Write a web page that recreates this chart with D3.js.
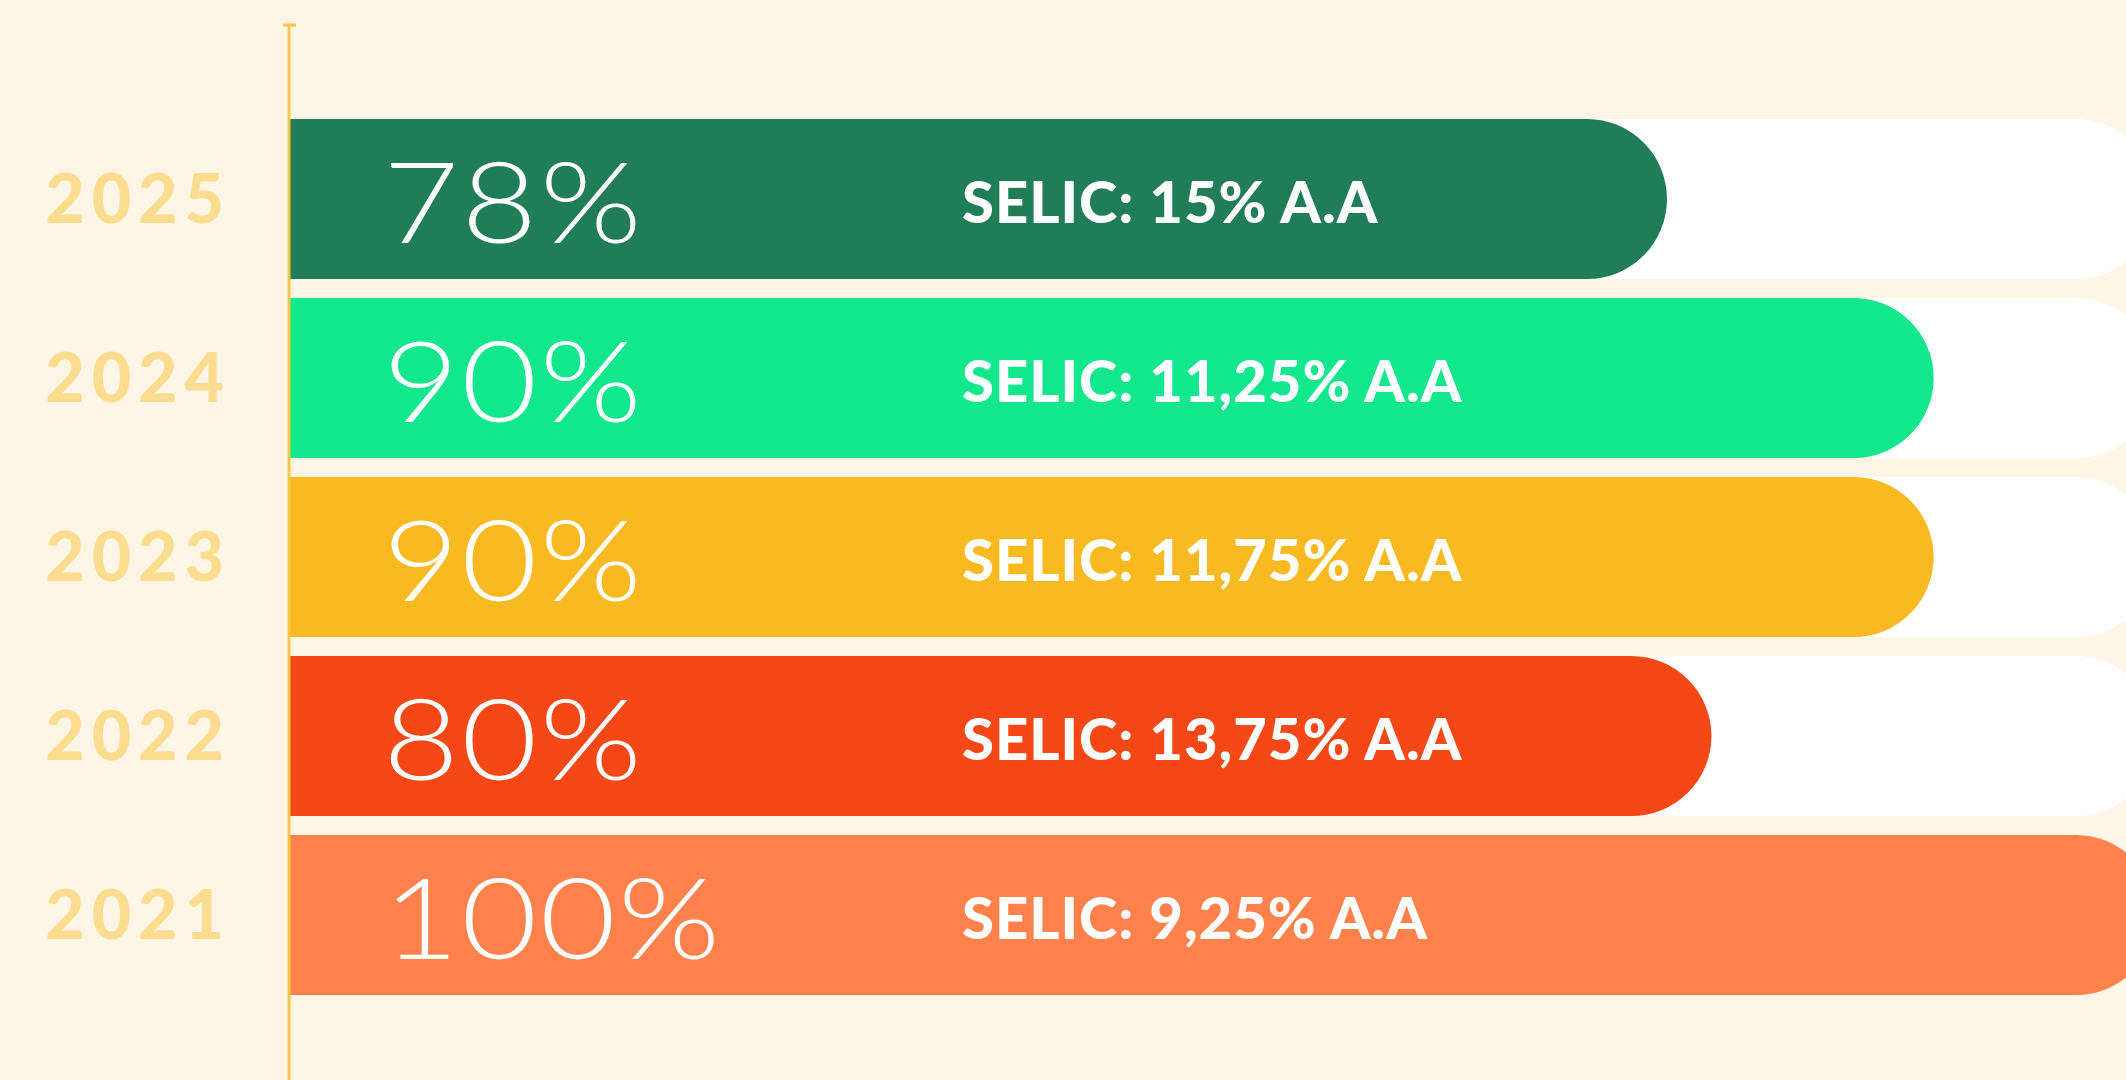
<!DOCTYPE html>
<html>
<head>
<meta charset="utf-8">
<script src="https://cdn.jsdelivr.net/npm/d3@7"></script>
<style>
  html, body { margin: 0; padding: 0; background: #FDF6E7; overflow: hidden; }
  svg { display: block; }
</style>
</head>
<body>
<div id="chart"></div>
<script>
const years = ["2025", "2024", "2023", "2022", "2021"];
const shares = [78, 90, 90, 80, 100];
const shareLabels = ["78%", "90%", "90%", "80%", "100%"];
const selicLabels = [
    "SELIC: 15% A.A",
    "SELIC: 11,25% A.A",
    "SELIC: 11,75% A.A",
    "SELIC: 13,75% A.A",
    "SELIC: 9,25% A.A"
];
const trackValue = 100;

const barColors = ["#207D57", "#12E78D", "#F9BA21", "#F64816", "#FF814B"];

const width = 2126;
const height = 1080;
const axisX = 289;

const rows = years.map((y, i) => ({
    year: y,
    value: shares[i],
    label: shareLabels[i],
    selic: selicLabels[i]
}));

const svg = d3.select("#chart").append("svg")
    .attr("width", width)
    .attr("height", height)
    .attr("viewBox", [0, 0, width, height]);

svg.append("rect")
    .attr("width", width)
    .attr("height", height)
    .attr("fill", "#FDF6E7");

// the bars start at the axis; the scale is cut at 16 so 100 lands past the right edge
const x = d3.scaleLinear()
    .domain([16, 100])
    .range([axisX, 2156]);

const y = d3.scaleBand()
    .domain(years)
    .range([119, 995])
    .paddingInner(0.106)
    .paddingOuter(0);

const color = d3.scaleOrdinal().domain(years).range(barColors);

// flat on the left, half circle on the right
function pill(x0, x1, top, h) {
    const r = h / 2;
    return `M${x0},${top}H${x1 - r}A${r},${r} 0 0 1 ${x1 - r},${top + h}H${x0}Z`;
}

svg.append("g").selectAll("path.track")
    .data(rows)
    .join("path")
    .attr("class", "track")
    .attr("fill", "#FFFFFF")
    .attr("d", d => pill(x(16), x(trackValue), y(d.year), y.bandwidth()));

svg.append("g").selectAll("path.bar")
    .data(rows)
    .join("path")
    .attr("class", "bar")
    .attr("fill", d => color(d.year))
    .attr("d", d => pill(x(16), x(d.value), y(d.year), y.bandwidth()));

// big thin percentages, stretched a bit to get the wide look of the original face
svg.append("g").selectAll("text.pct")
    .data(rows)
    .join("text")
    .attr("class", "pct")
    .attr("transform", d => `translate(383,${y(d.year) + y.bandwidth() / 2 + 44}) scale(1.17,1)`)
    .style("font-family", "Lato, Roboto, sans-serif")
    .style("font-weight", 300)
    .style("font-size", "112px")
    .style("letter-spacing", "2px")
    .style("fill", "#FFFFFF")
    .text(d => d.label);

svg.append("g").selectAll("text.selic")
    .data(rows)
    .join("text")
    .attr("class", "selic")
    .attr("x", 962)
    .attr("y", d => y(d.year) + y.bandwidth() / 2 + 24)
    .style("font-family", "Lato, 'Open Sans', sans-serif")
    .style("font-weight", 900)
    .style("font-size", "58px")
    .style("letter-spacing", "1px")
    .style("fill", "#FFFFFF")
    .text(d => d.selic);

// vertical axis line with small cap
svg.append("line")
    .attr("x1", axisX).attr("x2", axisX)
    .attr("y1", 25).attr("y2", height)
    .attr("stroke", "#F9C548")
    .attr("stroke-width", 3);

svg.append("line")
    .attr("x1", axisX - 6).attr("x2", axisX + 7)
    .attr("y1", 25).attr("y2", 25)
    .attr("stroke", "#F9C548")
    .attr("stroke-width", 3);

const yAxis = svg.append("g")
    .attr("transform", `translate(${axisX},0)`)
    .call(d3.axisLeft(y).tickSize(0).tickPadding(58));

yAxis.select(".domain").remove();
yAxis.selectAll(".tick text")
    .attr("dy", "0.36em")
    .style("font-family", "Lato, sans-serif")
    .style("font-weight", 900)
    .style("font-size", "68px")
    .style("letter-spacing", "7px")
    .style("fill", "#FCDD90");
</script>
</body>
</html>
